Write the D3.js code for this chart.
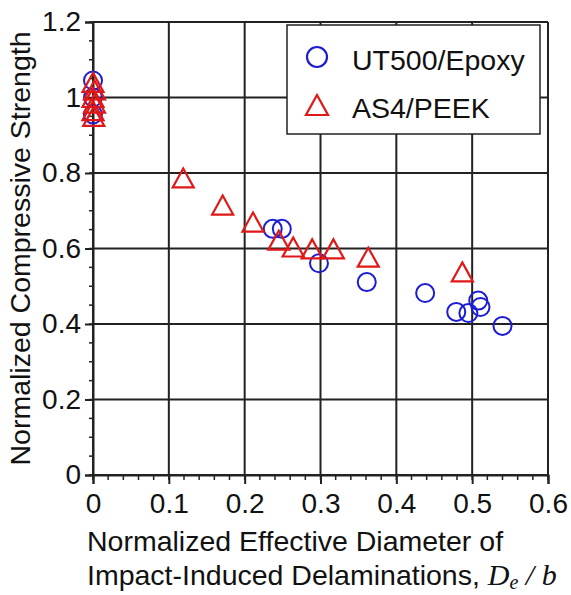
<!DOCTYPE html>
<html>
<head>
<meta charset="utf-8">
<script src="https://cdn.jsdelivr.net/npm/d3@7"></script>
<style>
  body { margin: 0; background: #fff; }
  text { font-family: "Liberation Sans", Arial, sans-serif; fill: #111; }
</style>
</head>
<body>
<div id="container"></div>
<script>
/* DATA */
const epoxyX = [0, 0, 0, 0.237, 0.249, 0.298, 0.361, 0.438, 0.479, 0.495, 0.508, 0.511, 0.540];
const epoxyY = [1.045, 1.0, 0.955, 0.652, 0.652, 0.561, 0.511, 0.482, 0.432, 0.429, 0.462, 0.445, 0.395];
const peekX = [0, 0.002, 0, 0.002, 0, 0.001, 0.119, 0.171, 0.211, 0.245, 0.264, 0.289, 0.317, 0.363, 0.487];
const peekY = [1.04, 1.02, 1.0, 0.985, 0.965, 0.95, 0.787, 0.715, 0.670, 0.622, 0.604, 0.599, 0.599, 0.577, 0.538];
const xTicks = [0, 0.1, 0.2, 0.3, 0.4, 0.5, 0.6];
const yTicks = [0, 0.2, 0.4, 0.6, 0.8, 1.0, 1.2];
const seriesNames = ["UT500/Epoxy", "AS4/PEEK"];

/* CONSTANTS AND GLOBALS */
const W = 571, H = 595;
const margin = { top: 22, right: 23, bottom: 120, left: 93 };
const width = W - margin.left - margin.right;
const height = H - margin.top - margin.bottom;
const blue = "#1c1cd2", red = "#e01818", ink = "#222";

const svg = d3.select("#container").append("svg")
  .attr("width", W).attr("height", H);

const g = svg.append("g").attr("transform", `translate(${margin.left},${margin.top})`);

const x = d3.scaleLinear().domain([0, 0.6]).range([0, width]);
const y = d3.scaleLinear().domain([0, 1.2]).range([height, 0]);

// grid
g.selectAll(".vgrid").data(xTicks).join("line")
  .attr("x1", d => x(d)).attr("x2", d => x(d))
  .attr("y1", 0).attr("y2", height)
  .attr("stroke", ink).attr("stroke-width", 2);
g.selectAll(".hgrid").data(yTicks).join("line")
  .attr("y1", d => y(d)).attr("y2", d => y(d))
  .attr("x1", 0).attr("x2", width)
  .attr("stroke", ink).attr("stroke-width", 2);

// minor ticks
const xMinor = d3.range(0, 0.6001, 0.02);
const yMinor = d3.range(0, 1.2001, 0.05);
g.selectAll(".xminor").data(xMinor).join("line")
  .attr("x1", d => x(d)).attr("x2", d => x(d))
  .attr("y1", height).attr("y2", height + 5)
  .attr("stroke", ink).attr("stroke-width", 1.5);
g.selectAll(".yminor").data(yMinor).join("line")
  .attr("y1", d => y(d)).attr("y2", d => y(d))
  .attr("x1", -4).attr("x2", 0)
  .attr("stroke", ink).attr("stroke-width", 1.5);

// axes
const xAxis = g.append("g").attr("transform", `translate(0,${height})`)
  .call(d3.axisBottom(x).tickValues(xTicks).tickFormat(d3.format("")).tickSize(9).tickPadding(9));
const yAxis = g.append("g")
  .call(d3.axisLeft(y).tickValues(yTicks).tickFormat(d => d3.format("")(+d.toFixed(1))).tickSize(8).tickPadding(4));
[xAxis, yAxis].forEach(a => {
  a.select(".domain").attr("stroke", ink).attr("stroke-width", 2);
  a.selectAll(".tick line").attr("stroke", ink).attr("stroke-width", 2);
  a.selectAll("text").style("font-size", "28px").attr("fill", "#111")
    .style("font-family", "Liberation Sans, Arial, sans-serif");
});

// markers
const triPath = (w, h) => `M0,${-h / 2}L${w / 2},${h / 2}L${-w / 2},${h / 2}Z`;

g.selectAll(".epoxy").data(epoxyX.map((d, i) => [d, epoxyY[i]])).join("circle")
  .attr("cx", d => x(d[0])).attr("cy", d => y(d[1])).attr("r", 9)
  .attr("fill", "none").attr("stroke", blue).attr("stroke-width", 2);

g.selectAll(".peek").data(peekX.map((d, i) => [d, peekY[i]])).join("path")
  .attr("transform", d => `translate(${x(d[0])},${y(d[1])})`)
  .attr("d", triPath(21, 19))
  .attr("fill", "none").attr("stroke", red).attr("stroke-width", 2.2);

// legend
const lg = svg.append("g").attr("transform", "translate(287,25)");
lg.append("rect").attr("width", 253).attr("height", 109)
  .attr("fill", "#fff").attr("stroke", ink).attr("stroke-width", 1.5);
lg.append("circle").attr("cx", 30).attr("cy", 32).attr("r", 10)
  .attr("fill", "none").attr("stroke", blue).attr("stroke-width", 2.2);
lg.append("path").attr("transform", "translate(30,80)").attr("d", triPath(22, 20))
  .attr("fill", "none").attr("stroke", red).attr("stroke-width", 2.2);
lg.selectAll(".ltext").data(seriesNames).join("text")
  .attr("x", 65).attr("y", (d, i) => 45 + i * 48)
  .style("font-size", "28.5px").text(d => d);

// axis titles
svg.append("text")
  .attr("transform", `translate(30,${margin.top + height / 2}) rotate(-90)`)
  .attr("text-anchor", "middle").style("font-size", "28.5px")
  .text("Normalized Compressive Strength");
svg.append("text").attr("x", 87).attr("y", 551).style("font-size", "28.5px")
  .text("Normalized Effective Diameter of");
const l2 = svg.append("text").attr("x", 87).attr("y", 585).style("font-size", "28.5px");
l2.append("tspan").text("Impact-Induced Delaminations, ");
l2.append("tspan").style("font-family", "Liberation Serif, Times New Roman, serif")
  .style("font-style", "italic").style("font-size", "30px").text("D");
l2.append("tspan").attr("dy", 4).style("font-family", "Liberation Serif, Times New Roman, serif")
  .style("font-style", "italic").style("font-size", "20px").text("e");
l2.append("tspan").attr("dy", -4).style("font-family", "Liberation Serif, Times New Roman, serif")
  .style("font-style", "italic").style("font-size", "30px").text(" / b");
</script>
</body>
</html>
